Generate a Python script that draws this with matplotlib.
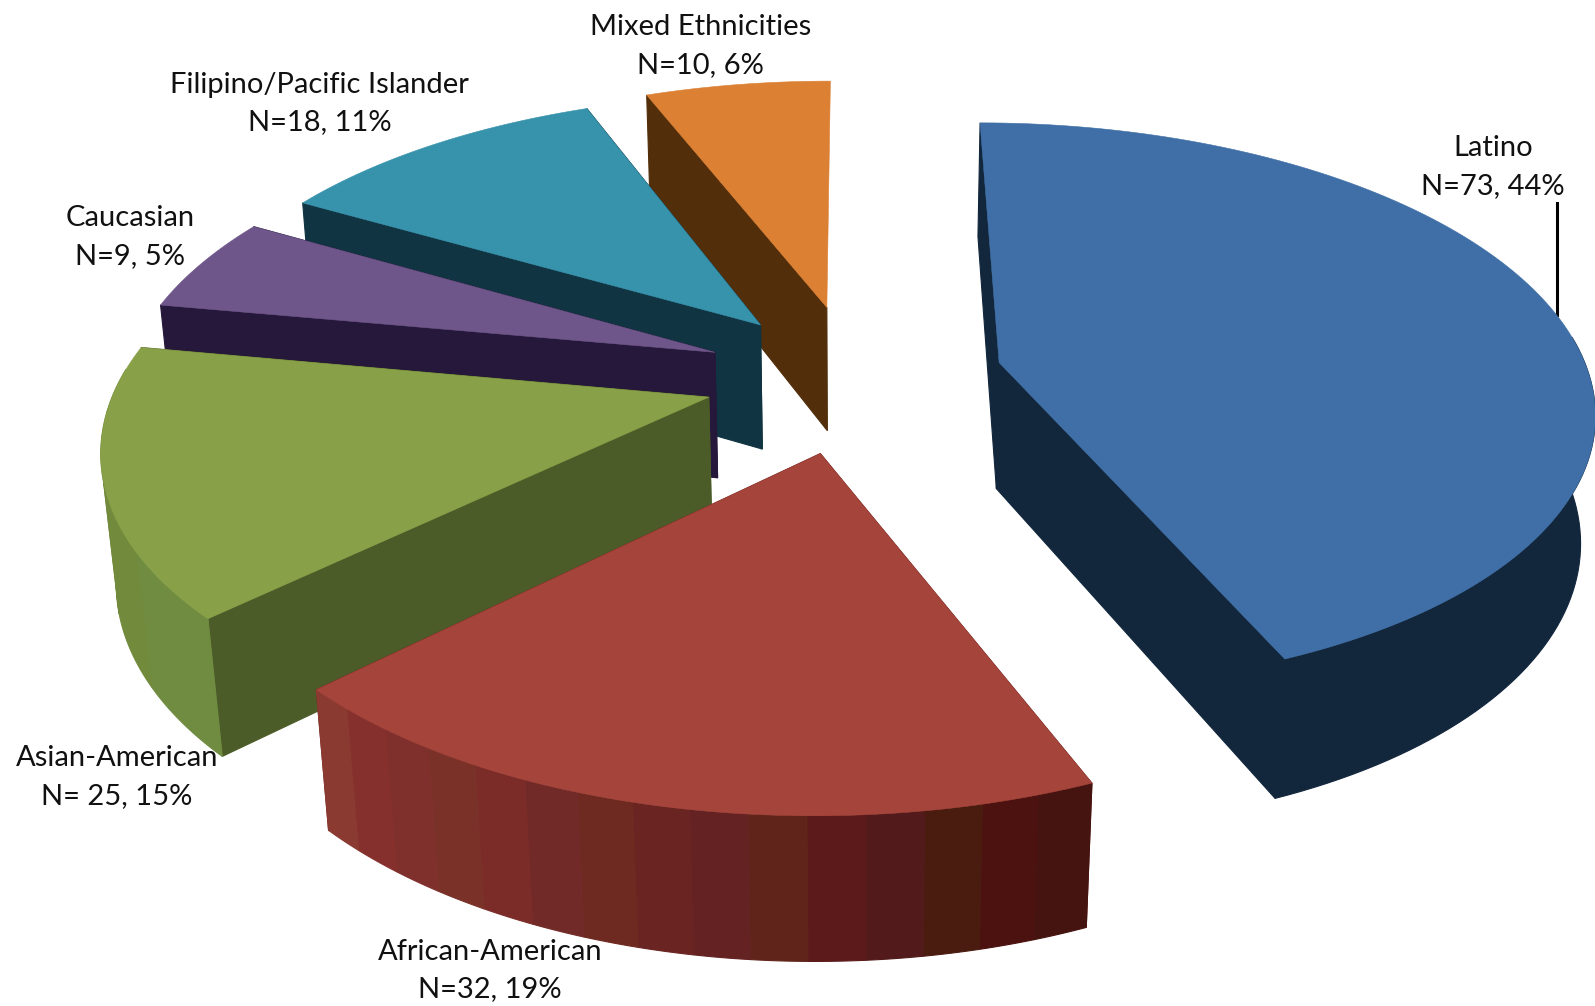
import numpy as np
import matplotlib
matplotlib.use("Agg")
import matplotlib.pyplot as plt

# slice data, clockwise from the top of the pie
categories = ['Latino', 'African-American', 'Asian-American', 'Caucasian',
              'Filipino/Pacific Islander', 'Mixed Ethnicities']
counts = [73, 32, 25, 9, 18, 10]
count_labels = ['N=73, 44%', 'N=32, 19%', 'N= 25, 15%', 'N=9, 5%', 'N=18, 11%', 'N=10, 6%']

top_colors = ['#3f6fa6', '#a5443a', '#88a047', '#6e568a', '#3792ac', '#dc8034']
wall_colors = ['#12263c', '#6a2422', '#4c5c28', '#26183a', '#103442', '#522e0a']
# bands run clockwise, so right to left on the front of the pie
african_bands = ['#451410', '#4c1210', '#4a1c10', '#521a1a', '#5c1a1a', '#60241a', '#642222', '#6a2422',
                 '#6e2a20', '#722a28', '#7c2c28', '#7a3228', '#7f302c', '#85302c', '#8a3a30']
asian_bands = ['#6f8c40', '#728a3c', '#728a3c', '#728a3c']

# camera settings for the tilted pie
CX, CY = 840, 370
F, FS = 580, 275.6
PERSP, DEPTH_PERSP = 0.153, 0.02
HEIGHT = 127
EXPLODE = [0.252, 0.27, 0.255, 0.255, 0.25, 0.26]


def project(x, y, z):
    w = 1 - PERSP * y + DEPTH_PERSP * z
    return CX + F * x / w, CY + (FS * y + HEIGHT * z) / w


def draw_slice(ax, start, stop, explode, top, wall, bands=None):
    mid = np.radians((start + stop) / 2)
    ox, oy = explode * np.sin(mid), -explode * np.cos(mid)
    th = np.radians(np.linspace(start, stop, 120))
    x = ox + np.sin(th)
    y = oy - np.cos(th)

    # straight walls from the centre out to both arc ends
    for i in [0, -1]:
        if i == -1 and stop >= 360:  # this one only peeks out as a dark line
            continue
        wx, wy = [ox, x[i], x[i], ox], [oy, y[i], y[i], oy]
        px, py = project(np.array(wx), np.array(wy), np.array([0, 0, 1, 1]))
        ax.fill(px, py, color=wall, lw=0.8)

    # round wall, in bands when the slice has them, front half only
    if bands is None:
        bands = [wall]
    parts = np.array_split(np.arange(len(th)), len(bands))
    for part, col in zip(parts, bands):
        part = np.append(part, min(part[-1] + 1, len(th) - 1))
        part = part[np.cos(th[part]) < 0.1]
        if len(part) < 2:
            continue
        px1, py1 = project(x[part], y[part], 0 * part)
        px2, py2 = project(x[part][::-1], y[part][::-1], 0 * part + 1)
        ax.fill(np.r_[px1, px2], np.r_[py1, py2], color=col, lw=0.8)

    px, py = project(np.r_[ox, x], np.r_[oy, y], np.zeros(len(x) + 1))
    ax.fill(px, py, color=top, lw=0.4)


fig = plt.figure(figsize=(15.95, 10.06), dpi=100)
ax = fig.add_axes([0, 0, 1, 1])
ax.set_xlim(0, 1568)
ax.set_ylim(989, 0)
ax.axis('off')

edges = np.r_[0, np.cumsum(counts)] / sum(counts) * 360
bands = {1: african_bands, 2: asian_bands}
for i in [5, 4, 3, 2, 0, 1]:
    draw_slice(ax, edges[i], edges[i + 1], EXPLODE[i], top_colors[i], wall_colors[i], bands.get(i))

ax.plot([1531, 1531], [200, 310], color='black', lw=2.2, zorder=0.5)

label_xy = [(1468, 164), (482, 954), (115, 764), (128, 233), (314, 102), (689, 45)]
for name, cnt, (lx, ly) in zip(categories, count_labels, label_xy):
    ax.text(lx, ly, name + '\n' + cnt, ha='center', va='center', fontsize=21,
            family='Lato', color='#111111', linespacing=1.55)

fig.savefig('out.png', dpi=100)
